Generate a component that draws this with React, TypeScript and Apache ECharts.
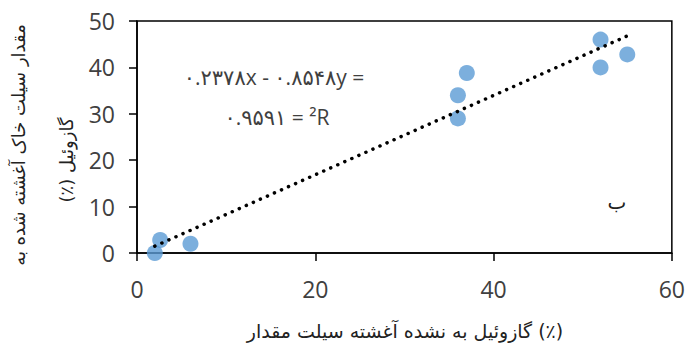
import React, { useEffect, useRef } from "react";
import * as echarts from "echarts";

const xValues = [2, 2.6, 6, 36, 36, 37, 52, 52, 55];
const yValues = [0, 2.8, 2, 29, 34, 38.8, 46, 40, 42.8];
const trendSlope = 0.8548;
const trendIntercept = -0.2378;
const xTicks = [0, 20, 40, 60];
const yTicks = [0, 10, 20, 30, 40, 50];

const equationLine1 = "۰.۲۳۷۸x - ۰.۸۵۴۸y =";
const equationLine2 = "۰.۹۵۹۱ = ²R";
const panelLetter = "ب";
const xTitleWords = ["مقدار", "سیلت", "آغشته", "نشده", "به", "گازوئیل", "(٪)"];
const yTitleLine1 = "مقدار سیلت خاک آغشته شده به";
const yTitleLine2 = "(٪) گازوئیل";

const NUM_FONT = "'Open Sans', 'DejaVu Sans', sans-serif";
const FA_FONT = "'DejaVu Sans', sans-serif";

export default function App() {
  const ref = useRef<HTMLDivElement>(null);
  useEffect(() => {
    document.body.style.margin = "0";
    if (!ref.current) return;
    const chart = echarts.init(ref.current, null, { renderer: "svg" });
    const pts = xValues.map((x, i) => [x, yValues[i]]);
    const xMin = Math.min(...xValues);
    const xMax = Math.max(...xValues);
    const trend = [xMin, xMax].map((x) => [x, trendSlope * x + trendIntercept]);
    const axisCommon = {
      type: "value" as const,
      axisLine: { show: true, lineStyle: { color: "#000", width: 1.5 } },
      axisTick: { show: true, inside: false, length: 8, lineStyle: { color: "#000", width: 1.5 } },
      splitLine: { show: false },
      axisLabel: { fontSize: 23, color: "#404040", fontFamily: NUM_FONT },
    };
    chart.setOption({
      animation: false,
      backgroundColor: "#fff",
      grid: {
        left: 137,
        right: 16,
        top: 21,
        bottom: 96,
        show: true,
        borderColor: "#000",
        borderWidth: 1.5,
      },
      xAxis: {
        ...axisCommon,
        min: xTicks[0],
        max: xTicks[xTicks.length - 1],
        interval: xTicks[1] - xTicks[0],
        axisLabel: { ...axisCommon.axisLabel, margin: 24 },
      },
      yAxis: {
        ...axisCommon,
        min: yTicks[0],
        max: yTicks[yTicks.length - 1],
        interval: yTicks[1] - yTicks[0],
        axisLabel: { ...axisCommon.axisLabel, margin: 22 },
      },
      series: [
        {
          type: "scatter",
          data: pts,
          symbolSize: 16,
          itemStyle: { color: "#5B9BD5" },
          z: 2,
        },
        {
          type: "line",
          data: trend,
          symbol: "none",
          lineStyle: { color: "#000", width: 3.5, type: [0.1, 7.6], cap: "round" },
          z: 3,
        },
      ],
      graphic: [
        {
          type: "text",
          x: 274,
          y: 77,
          style: {
            text: equationLine1,
            font: `21px ${NUM_FONT}`,
            fill: "#404040",
            textAlign: "center",
            textVerticalAlign: "middle",
          },
        },
        {
          type: "text",
          x: 277,
          y: 117,
          style: {
            text: equationLine2,
            font: `21px ${NUM_FONT}`,
            fill: "#404040",
            textAlign: "center",
            textVerticalAlign: "middle",
          },
        },
        {
          type: "text",
          x: 617,
          y: 202,
          style: {
            text: panelLetter,
            font: `20px ${FA_FONT}`,
            fill: "#222",
            textAlign: "center",
            textVerticalAlign: "middle",
          },
        },
        {
          type: "text",
          x: 405,
          y: 331,
          style: {
            text: xTitleWords.join("\u200E "),
            font: `19px ${FA_FONT}`,
            fill: "#222",
            textAlign: "center",
            textVerticalAlign: "middle",
          },
        },
        {
          type: "text",
          x: 18,
          y: 145,
          rotation: Math.PI / 2,
          style: {
            text: yTitleLine1,
            font: `18px ${FA_FONT}`,
            fill: "#222",
            textAlign: "center",
            textVerticalAlign: "middle",
          },
        },
        {
          type: "text",
          x: 66,
          y: 160,
          rotation: Math.PI / 2,
          style: {
            text: yTitleLine2,
            font: `18px ${FA_FONT}`,
            fill: "#222",
            textAlign: "center",
            textVerticalAlign: "middle",
          },
        },
      ],
    });
    return () => chart.dispose();
  }, []);
  return <div ref={ref} style={{ width: 688, height: 349 }} />;
}
